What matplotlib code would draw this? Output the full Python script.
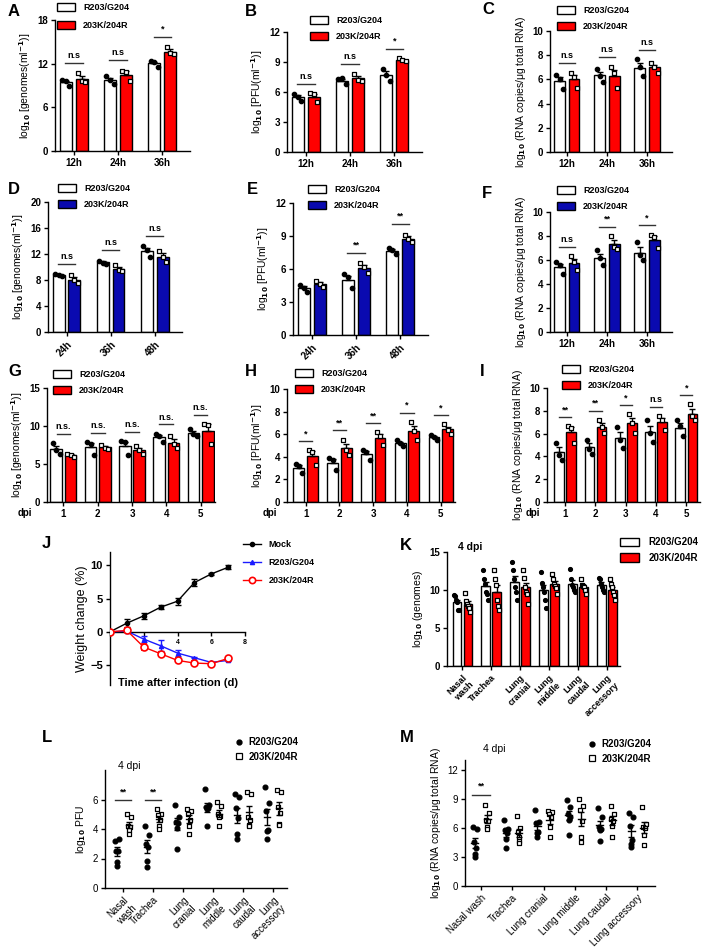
import numpy as np
import matplotlib
matplotlib.use('Agg')
import matplotlib.pyplot as plt
from matplotlib.patches import Patch
from matplotlib.lines import Line2D

plt.rcParams['font.family'] = ['Liberation Sans', 'DejaVu Sans']
plt.rcParams['font.weight'] = 'bold'
plt.rcParams['axes.linewidth'] = 1.0

RED = '#ff0000'
BLUE = '#0a0ab0'
W, H = 705, 952

# ---- data ----
hours1 = ['12h', '24h', '36h']
hours2 = ['24h', '36h', '48h']
days = ['1', '2', '3', '4', '5']

A_wt = [[9.76, 9.6, 8.93], [10.3, 9.76, 9.2], [12.37, 12.2, 11.6]]
A_mut = [[10.67, 9.6, 9.5], [11.0, 10.9, 9.6], [14.25, 13.4, 13.3]]
A_sig = ['n.s', 'n.s', '*']

B_wt = [[5.8, 5.53, 5.1], [7.27, 7.37, 6.8], [8.35, 7.66, 7.1]]
B_mut = [[5.87, 5.8, 4.96], [7.8, 7.2, 7.1], [9.38, 9.2, 9.15]]
B_sig = ['n.s', 'n.s', '*']

C_wt = [[6.35, 6.0, 5.17], [6.9, 6.27, 5.8], [7.65, 6.99, 6.27]]
C_mut = [[6.55, 6.2, 5.25], [7.04, 6.55, 5.25], [7.38, 7.04, 6.55]]
C_sig = ['n.s', 'n.s', 'n.s']

D_wt = [[8.87, 8.72, 8.56], [11.0, 10.67, 10.5], [13.2, 12.56, 11.54]]
D_mut = [[8.72, 7.95, 7.54], [10.26, 9.6, 9.4], [12.5, 11.5, 10.7]]
D_sig = ['n.s', 'n.s', 'n.s']

E_wt = [[4.56, 4.26, 3.95], [5.53, 5.26, 4.26], [7.9, 7.69, 7.39]]
E_mut = [[4.92, 4.65, 4.4], [6.53, 6.17, 5.68], [9.12, 8.72, 8.45]]
E_sig = ['', '**', '**']

F_wt = [[5.83, 5.56, 4.8], [6.8, 6.17, 5.56], [7.5, 6.39, 5.97]]
F_mut = [[6.3, 5.83, 5.14], [7.97, 7.08, 6.94], [8.1, 7.9, 7.0]]
F_sig = ['n.s', '**', '*']

G_wt = [[7.76, 6.89, 6.36], [7.9, 7.68, 6.23], [7.98, 7.9, 6.23], [9.0, 8.64, 7.9], [9.65, 8.9, 8.64]]
G_mut = [[6.36, 6.14, 5.92], [7.46, 7.15, 7.0], [7.32, 6.89, 6.36], [8.64, 7.68, 7.1], [10.3, 10.1, 7.68]]
G_sig = ['n.s.'] * 5

H_wt = [[3.4, 3.17, 2.57], [3.85, 3.7, 2.81], [4.64, 4.44, 3.76], [5.47, 5.18, 4.94], [5.92, 5.71, 5.53]]
H_mut = [[4.59, 4.44, 3.25], [5.53, 4.59, 4.14], [6.2, 5.83, 5.03], [7.1, 6.3, 5.47], [6.89, 6.36, 6.0]]
H_sig = ['*', '**', '**', '*', '*']

I_wt = [[5.18, 4.15, 3.71], [5.47, 4.68, 4.24], [6.58, 5.41, 4.77], [7.16, 6.05, 5.26], [7.16, 6.64, 5.76]]
I_mut = [[6.64, 6.49, 5.18], [7.22, 6.58, 6.05], [7.69, 6.93, 6.05], [7.51, 7.22, 6.29], [8.57, 7.51, 7.16]]
I_sig = ['**', '**', '*', 'n.s', '*']

J_day = [0, 1, 2, 3, 4, 5, 6, 7]
J_mock = [0, 1.3, 2.4, 3.7, 4.6, 7.4, 8.7, 9.7]
J_mock_err = [0, 0.6, 0.4, 0.3, 0.5, 0.5, 0.2, 0.3]
J_wt = [0, 0.1, -1.1, -2.1, -3.2, -3.9, -4.6, -4.3]
J_wt_err = [0, 0.2, 0.5, 0.8, 0.4, 0.1, 0.1, 0.1]
J_mut = [0, 0.2, -2.3, -3.3, -4.3, -4.7, -4.8, -4.0]
J_mut_err = [0, 0.3, 0.5, 0.3, 0.3, 0.3, 0.1, 0.1]

tissues2 = ['Nasal\nwash', 'Trachea', 'Lung\ncranial', 'Lung\nmiddle', 'Lung\ncaudal', 'Lung\naccessory']
tissues1 = ['Nasal wash', 'Trachea', 'Lung cranial', 'Lung middle', 'Lung caudal', 'Lung accessory']

K_wt = [[9.3, 9.18, 8.66, 8.44, 7.35, 7.35], [12.6, 11.5, 10.8, 9.75, 9.5, 8.7],
        [13.7, 12.6, 11.5, 10.4, 9.75, 8.66], [12.4, 10.9, 10.4, 9.75, 8.66, 7.6],
        [12.7, 11.4, 10.6, 10.4, 10.0, 9.75], [11.6, 11.5, 10.8, 10.4, 10.0, 9.75]]
K_mut = [[9.6, 8.6, 8.2, 7.9, 7.6, 7.1], [12.6, 11.5, 10.6, 8.66, 7.9, 7.4],
         [12.6, 11.6, 10.4, 9.75, 9.5, 8.2], [12.1, 11.5, 10.8, 10.5, 10.2, 9.45],
         [11.5, 10.6, 10.5, 10.4, 10.0, 9.45], [11.4, 10.75, 10.4, 9.75, 9.3, 8.66]]

L_wt = [[3.22, 3.33, 2.48, 2.52, 1.76, 1.46], [4.2, 3.56, 3.0, 2.8, 1.8, 1.42],
        [5.6, 4.84, 4.5, 4.44, 4.1, 2.64], [6.7, 5.63, 5.52, 5.4, 5.34, 4.23],
        [6.37, 6.15, 5.4, 4.73, 3.67, 3.31], [6.82, 5.79, 5.25, 3.9, 3.85, 3.31]]
L_mut = [[5.0, 4.84, 4.2, 4.12, 3.94, 3.67], [5.34, 5.02, 4.95, 4.62, 4.2, 4.0],
         [5.34, 5.25, 5.0, 4.62, 4.17, 3.65], [5.86, 5.56, 5.02, 4.89, 4.8, 4.17],
         [6.53, 6.37, 4.8, 4.62, 4.28, 4.2], [6.64, 6.49, 5.47, 5.11, 4.35, 4.3]]
L_sig = ['**', '**', '', '', '', '']

M_wt = [[6.1, 5.83, 4.56, 3.87, 3.29, 3.0], [6.86, 5.93, 5.76, 5.42, 4.9, 3.94],
        [7.82, 6.62, 6.45, 5.59, 5.42, 5.07], [8.91, 8.16, 7.4, 7.13, 6.79, 5.31],
        [8.09, 7.13, 6.1, 5.83, 5.76, 4.66], [7.54, 7.13, 6.17, 4.73, 4.32, 4.05]]
M_mut = [[8.4, 7.54, 6.86, 6.72, 6.1, 5.83], [7.2, 6.0, 5.59, 5.07, 4.63, 4.46],
         [7.75, 7.65, 7.4, 7.13, 6.1, 5.07], [8.95, 8.3, 7.82, 6.72, 5.07, 4.49],
         [8.23, 7.47, 6.96, 6.72, 6.17, 5.07], [8.16, 6.38, 6.1, 6.0, 5.25, 4.22]]
M_sig = ['**', '', '', '', '', '']

fig = plt.figure(figsize=(W / 100, H / 100), dpi=100)


def add_ax(l, r, t, b):
    return fig.add_axes([l / W, 1 - b / H, (r - l) / W, (b - t) / H])


def style(ax):
    for s in ['top', 'right']:
        ax.spines[s].set_visible(False)
    ax.tick_params(direction='out', length=3, width=1, labelsize=7, pad=2)


def sem(p):
    p = np.asarray(p, float)
    return p.std(ddof=1) / np.sqrt(len(p))


def leg_box(ax, color, x, y, fs=6.5, spacing=0.8):
    h = [Patch(facecolor='white', edgecolor='black', lw=1), Patch(facecolor=color, edgecolor='black', lw=1)]
    ax.legend(h, ['R203/G204', '203K/204R'], loc='upper left', bbox_to_anchor=(x / W, 1 - y / H),
              bbox_transform=fig.transFigure, frameon=False, fontsize=fs, handlelength=2.0,
              handleheight=0.9, labelspacing=spacing, borderaxespad=0, borderpad=0, handletextpad=0.9)


def bar_panel(ax, wt, mut, color, cats, ymax, step, ylabel, sigs, w=0.27, off=0.18, xlim=None,
              rot=0, sigw=0.2, ms=10):
    style(ax)
    x = np.arange(len(cats))
    for grp, data, fc, mk, mfc in [(-1, wt, 'white', 'o', 'black'), (1, mut, color, 's', 'white')]:
        xs = x + grp * off
        means = [np.mean(p) for p in data]
        errs = [sem(p) for p in data]
        ax.bar(xs, means, w, color=fc, edgecolor='black', lw=1, zorder=2)
        ax.errorbar(xs, means, yerr=[np.zeros(len(errs)), errs], fmt='none', ecolor='black',
                    elinewidth=1, capsize=2, capthick=1, zorder=3)
        for i, p in enumerate(data):
            jit = np.linspace(-w * 0.3, w * 0.3, len(p))
            ax.scatter(xs[i] + jit, p, marker=mk, s=ms, c=mfc, edgecolors='black',
                       linewidths=0.9, zorder=4)
    for i, lab in enumerate(sigs):
        if not lab:
            continue
        hgt = max(max(wt[i]), max(mut[i])) + 0.08 * ymax
        ax.plot([i - sigw, i + sigw], [hgt, hgt], color='#333333', lw=1, zorder=3)
        ax.text(i, hgt + 0.025 * ymax, lab, ha='center', va='bottom', fontsize=6.5)
    ax.set_ylim(0, ymax)
    ax.set_yticks(np.arange(0, ymax + 0.01, step))
    ax.set_xticks(x)
    if rot:
        ax.set_xticklabels(cats, rotation=rot, ha='right', rotation_mode='anchor')
    else:
        ax.set_xticklabels(cats)
    ax.set_xlim(*(xlim or (-0.42, len(cats) - 0.38)))
    ax.set_ylabel(ylabel, fontsize=7.5, fontweight='normal', labelpad=3)


gen_lab = r'log$_{10}$ [genomes(ml$^{-1}$)]'
pfu_lab = r'log$_{10}$ [PFU(ml$^{-1}$)]'
rna_lab = r'log$_{10}$ (RNA copies/μg total RNA)'

# row 1
ax = add_ax(55, 190, 20, 151)
bar_panel(ax, A_wt, A_mut, RED, hours1, 18, 6, gen_lab, A_sig)
leg_box(ax, RED, 57, 3, spacing=1.0)
ax = add_ax(287, 422, 32, 152)
bar_panel(ax, B_wt, B_mut, RED, hours1, 12, 3, pfu_lab, B_sig)
leg_box(ax, RED, 310, 16)
ax = add_ax(550, 672, 31, 152)
bar_panel(ax, C_wt, C_mut, RED, hours1, 10, 2, rna_lab, C_sig)
leg_box(ax, RED, 557, 6)

# row 2
ax = add_ax(48, 182, 202, 332)
bar_panel(ax, D_wt, D_mut, BLUE, hours2, 20, 4, gen_lab, D_sig, rot=45)
leg_box(ax, BLUE, 58, 184)
ax = add_ax(293, 428, 203, 335)
bar_panel(ax, E_wt, E_mut, BLUE, hours2, 12, 3, pfu_lab, E_sig, rot=45)
leg_box(ax, BLUE, 308, 185)
ax = add_ax(550, 672, 212, 332)
bar_panel(ax, F_wt, F_mut, BLUE, hours1, 10, 2, rna_lab, F_sig)
leg_box(ax, BLUE, 557, 186)

# row 3
ax = add_ax(47, 215, 388, 502)
bar_panel(ax, G_wt, G_mut, RED, days, 15, 5, gen_lab, G_sig, w=0.34, off=0.21, xlim=(-0.48, 4.42))
leg_box(ax, RED, 53, 370)
ax = add_ax(287, 455, 389, 502)
bar_panel(ax, H_wt, H_mut, RED, days, 10, 2, pfu_lab, H_sig, w=0.32, off=0.2, xlim=(-0.55, 4.42))
leg_box(ax, RED, 295, 369)
ax = add_ax(547, 700, 388, 502)
bar_panel(ax, I_wt, I_mut, RED, days, 10, 2, rna_lab, I_sig, w=0.32, off=0.2, xlim=(-0.6, 4.45))
leg_box(ax, RED, 562, 365)
for px in [25, 270, 533]:
    fig.text(px / W, 1 - 513 / H, 'dpi', ha='center', va='center', fontsize=7)

# J weight change
ax = add_ax(110, 245, 552, 685)
style(ax)
ax.spines['bottom'].set_position(('data', 0))
ax.errorbar(J_day, J_mock, yerr=J_mock_err, color='black', marker='o', ms=3, lw=1,
            capsize=2, elinewidth=1, label='Mock', zorder=3)
ax.errorbar(J_day, J_wt, yerr=J_wt_err, color='#1a1aff', marker='^', ms=3, lw=1,
            capsize=2, elinewidth=1, label='R203/G204', zorder=3)
ax.errorbar(J_day, J_mut, yerr=J_mut_err, color=RED, marker='o', ms=5, mfc='white', mew=1.2,
            lw=1, capsize=2, elinewidth=1, label='203K/204R', zorder=4)
ax.set_xlim(0, 8)
ax.set_ylim(-8, 12)
ax.set_yticks([-5, 0, 5, 10])
ax.set_xticks([0, 2, 4, 6, 8])
ax.set_xticklabels(['', '', '4', '6', '8'], fontsize=5)
ax.tick_params(axis='y', labelsize=8)
ax.set_ylabel('Weight change (%)', fontsize=9, labelpad=2)
fig.text(178 / W, 1 - 683 / H, 'Time after infection (d)', ha='center', va='center', fontsize=8)
hs = [Line2D([], [], color='black', marker='o', ms=3, lw=1),
      Line2D([], [], color='#1a1aff', marker='^', ms=3, lw=1),
      Line2D([], [], color=RED, marker='o', ms=4.5, mfc='white', mew=1.2, lw=1)]
ax.legend(hs, ['Mock', 'R203/G204', '203K/204R'], loc='upper left', bbox_to_anchor=(243 / W, 1 - 540 / H),
          bbox_transform=fig.transFigure, frameon=False, fontsize=6.5, handlelength=2.0,
          labelspacing=1.0, borderaxespad=0, borderpad=0)

# K tissue genomes
ax = add_ax(447, 620, 552, 666)
bar_panel(ax, K_wt, K_mut, RED, tissues2, 15, 5, r'log$_{10}$ (genomes)', [''] * 6,
          w=0.28, off=0.19, xlim=(-0.52, 5.45), rot=45, ms=8)
ax.tick_params(axis='x', labelsize=6.5)
ax.text(458 / W, 1 - 547 / H, '4 dpi', transform=fig.transFigure, fontsize=7.5, va='center')
leg_box(ax, RED, 620, 537, fs=7, spacing=0.6)


def scatter_panel(ax, wt, mut, cats, ymax, step, ylabel, sigs, xlim, rot_labels):
    style(ax)
    x = np.arange(len(cats))
    for grp, data, mk, mfc in [(-1, wt, 'o', 'black'), (1, mut, 's', 'white')]:
        xs = x + grp * 0.2
        for i, p in enumerate(data):
            jit = np.array([-0.06, 0.06, -0.03, 0.03, 0.0, 0.0])[:len(p)]
            ax.scatter(xs[i] + jit, p, marker=mk, s=12, c=mfc, edgecolors='black',
                       linewidths=0.9, zorder=4)
            m = np.mean(p)
            ax.plot([xs[i] - 0.11, xs[i] + 0.11], [m, m], color='black', lw=1, zorder=5)
            ax.errorbar(xs[i], m, yerr=sem(p), fmt='none', ecolor='black', elinewidth=1,
                        capsize=2, capthick=1, zorder=5)
    tops = [max(max(wt[i]), max(mut[i])) for i, s in enumerate(sigs) if s]
    hgt = max(tops) + 0.08 * ymax
    for i, lab in enumerate(sigs):
        if lab:
            ax.plot([i - 0.28, i + 0.28], [hgt, hgt], color='#333333', lw=1)
            ax.text(i, hgt + 0.03 * ymax, lab, ha='center', va='bottom', fontsize=6.5)
    ax.set_ylim(0, ymax)
    ax.set_yticks(np.arange(0, ymax - 0.5, step))
    ax.set_xticks(x)
    ax.set_xticklabels(rot_labels, rotation=45, ha='right', rotation_mode='anchor', fontweight='normal')
    ax.set_xlim(*xlim)
    ax.set_ylabel(ylabel, fontsize=7.5, fontweight='normal', labelpad=3)
    for t in ax.get_yticklabels():
        t.set_fontweight('normal')


def leg_pts(ax, x, y):
    hs = [Line2D([], [], ls='', marker='o', ms=3.5, color='black'),
          Line2D([], [], ls='', marker='s', ms=4, mfc='white', mec='black', mew=0.9)]
    ax.legend(hs, ['R203/G204', '203K/204R'], loc='upper left', bbox_to_anchor=(x / W, 1 - y / H),
              bbox_transform=fig.transFigure, frameon=False, fontsize=7, handlelength=0.8,
              labelspacing=0.5, borderaxespad=0, borderpad=0, handletextpad=0.6)


ax = add_ax(105, 287, 770, 888)
scatter_panel(ax, L_wt, L_mut, tissues2, 8, 2, r'log$_{10}$ PFU', L_sig, (-0.6, 5.47), tissues2)
ax.text(118 / W, 1 - 766 / H, '4 dpi', transform=fig.transFigure, fontsize=7.5, va='center',
        fontweight='normal')
leg_pts(ax, 235, 737)

ax = add_ax(465, 655, 760, 886)
scatter_panel(ax, M_wt, M_mut, tissues1, 13, 3, rna_lab, M_sig, (-0.51, 5.56), tissues1)
ax.text(483 / W, 1 - 749 / H, '4 dpi', transform=fig.transFigure, fontsize=7.5, va='center',
        fontweight='normal')
leg_pts(ax, 588, 739)

for lab, px, py in [('A', 8, 12), ('B', 245, 12), ('C', 482, 10), ('D', 8, 190), ('E', 247, 190),
                    ('F', 482, 193), ('G', 8, 372), ('H', 245, 372), ('I', 480, 372),
                    ('J', 42, 543), ('K', 400, 545), ('L', 42, 738), ('M', 400, 738)]:
    fig.text(px / W, 1 - py / H, lab, fontsize=12, fontweight='bold', va='center', ha='left')

fig.savefig('out.png', dpi=100)
